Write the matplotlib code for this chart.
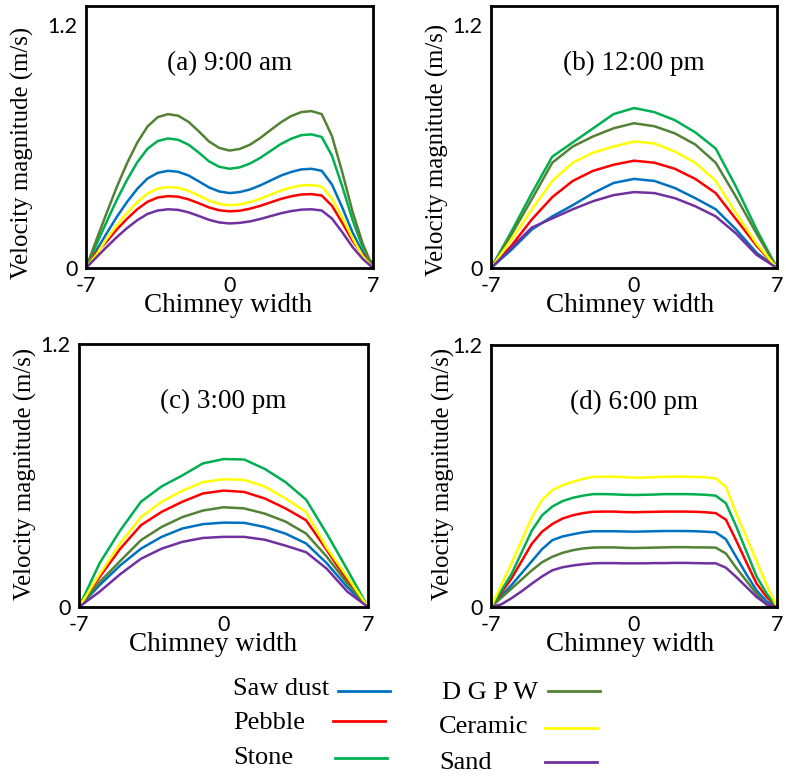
import matplotlib
matplotlib.use("Agg")
import matplotlib.pyplot as plt
from matplotlib.lines import Line2D

# chimney width positions: half steps for the smooth panels (a, d),
# whole steps for the more angular ones (b, c)
x_half = [-7, -6.5, -6, -5.5, -5, -4.5, -4, -3.5, -3, -2.5, -2, -1.5, -1, -0.5, 0,
          0.5, 1, 1.5, 2, 2.5, 3, 3.5, 4, 4.5, 5, 5.5, 6, 6.5, 7]
x_one = [-7, -6, -5, -4, -3, -2, -1, 0, 1, 2, 3, 4, 5, 6, 7]

names = ["Saw dust", "Pebble", "Stone", "D G P W", "Ceramic", "Sand"]
colors = ["#0070C0", "#FF0000", "#00B050", "#548235", "#FFFF00", "#7030A0"]

# (a) 9:00 am
a_saw = [0, .086, .17, .252, .326, .391, .442, .47, .48, .475, .457, .428, .398, .378, .37,
         .375, .388, .408, .432, .456, .474, .487, .49, .48, .412, .299, .176, .076, 0]
a_pebble = [.025, .075, .13, .19, .243, .29, .327, .348, .355, .352, .339, .32, .299, .285, .28,
            .283, .293, .307, .324, .341, .354, .363, .365, .358, .307, .223, .135, .065, .025]
a_stone = [0, .115, .227, .336, .435, .522, .589, .627, .64, .633, .609, .57, .527, .50, .49,
           .497, .516, .544, .578, .612, .638, .656, .66, .647, .554, .403, .238, .102, 0]
a_dgpw = [0, .137, .27, .40, .517, .619, .699, .745, .76, .752, .722, .675, .625, .593, .58,
          .588, .609, .642, .681, .719, .75, .77, .775, .76, .651, .473, .279, .12, 0]
a_ceramic = [0, .065, .142, .21, .272, .326, .368, .392, .40, .396, .381, .358, .333, .316, .31,
             .314, .325, .342, .362, .382, .397, .408, .41, .402, .344, .25, .148, .058, 0]
a_sand = [0, .052, .103, .152, .197, .236, .267, .284, .29, .287, .275, .257, .238, .225, .22,
          .223, .23, .242, .256, .27, .281, .288, .29, .284, .244, .177, .104, .045, 0]

# (b) 12:00 pm
b_saw = [0.00, 0.09, 0.19, 0.255, 0.31, 0.37, 0.42, 0.44, 0.43, 0.395, 0.345, 0.29, 0.19, 0.075, 0.00]
b_pebble = [0.00, 0.11, 0.24, 0.35, 0.43, 0.48, 0.51, 0.53, 0.52, 0.49, 0.44, 0.37, 0.24, 0.11, 0.00]
b_stone = [0.00, 0.18, 0.37, 0.55, 0.62, 0.69, 0.76, 0.79, 0.77, 0.73, 0.67, 0.59, 0.40, 0.19, 0.00]
b_dgpw = [0.00, 0.165, 0.34, 0.52, 0.60, 0.65, 0.69, 0.715, 0.70, 0.665, 0.61, 0.52, 0.35, 0.17, 0.00]
b_ceramic = [0.00, 0.14, 0.29, 0.43, 0.52, 0.57, 0.60, 0.625, 0.615, 0.575, 0.52, 0.43, 0.27, 0.12, 0.00]
b_sand = [0.00, 0.10, 0.20, 0.245, 0.29, 0.33, 0.36, 0.375, 0.37, 0.345, 0.305, 0.255, 0.17, 0.065, 0.00]

# (c) 3:00 pm
c_saw = [0.00, 0.10, 0.19, 0.266, 0.32, 0.358, 0.378, 0.385, 0.384, 0.365, 0.335, 0.29, 0.20, 0.09, 0.00]
c_pebble = [0.00, 0.137, 0.266, 0.373, 0.434, 0.48, 0.518, 0.531, 0.525, 0.495, 0.45, 0.396, 0.26, 0.12, 0.00]
c_stone = [0.00, 0.20, 0.35, 0.48, 0.55, 0.60, 0.655, 0.675, 0.673, 0.63, 0.57, 0.49, 0.335, 0.17, 0.00]
c_dgpw = [0.00, 0.114, 0.21, 0.305, 0.365, 0.41, 0.44, 0.455, 0.45, 0.426, 0.39, 0.335, 0.23, 0.107, 0.00]
c_ceramic = [0.00, 0.15, 0.29, 0.41, 0.48, 0.53, 0.57, 0.583, 0.58, 0.55, 0.495, 0.434, 0.27, 0.137, 0.00]
c_sand = [0.00, 0.07, 0.15, 0.22, 0.266, 0.297, 0.315, 0.32, 0.32, 0.307, 0.28, 0.25, 0.175, 0.07, 0.00]

# (d) 6:00 pm
d_saw = [0, .05, .10, .155, .21, .265, .306, .323, .333, .342, .347, .347, .347, .346, .345,
         .346, .347, .348, .348, .348, .347, .345, .342, .31, .23, .15, .076, .025, 0]
d_pebble = [0, .065, .13, .21, .29, .345, .38, .405, .42, .43, .436, .437, .437, .435, .434,
            .435, .436, .437, .437, .437, .436, .434, .43, .40, .305, .205, .107, .045, 0]
d_stone = [0, .075, .15, .25, .35, .42, .46, .485, .50, .51, .517, .517, .516, .514, .513,
           .514, .515, .517, .517, .517, .516, .514, .51, .475, .37, .255, .14, .06, 0]
d_dgpw = [0, .042, .084, .126, .168, .205, .23, .248, .26, .268, .272, .273, .273, .271, .27,
          .271, .272, .273, .274, .274, .273, .273, .272, .245, .18, .12, .06, .01, 0]
d_ceramic = [0, .10, .20, .305, .41, .49, .535, .558, .573, .587, .596, .597, .597, .595, .592,
             .593, .595, .597, .597, .597, .596, .594, .589, .55, .43, .32, .21, .10, 0]
d_sand = [0, .012, .04, .072, .107, .14, .168, .182, .19, .196, .20, .201, .201, .20, .20,
          .20, .201, .201, .202, .202, .201, .20, .20, .18, .138, .092, .046, .012, 0]

titles = ["(a) 9:00 am", "(b) 12:00 pm", "(c) 3:00 pm", "(d) 6:00 pm"]
xs = [x_half, x_one, x_one, x_half]
series = [
    [a_saw, a_pebble, a_stone, a_dgpw, a_ceramic, a_sand],
    [b_saw, b_pebble, b_stone, b_dgpw, b_ceramic, b_sand],
    [c_saw, c_pebble, c_stone, c_dgpw, c_ceramic, c_sand],
    [d_saw, d_pebble, d_stone, d_dgpw, d_ceramic, d_sand],
]

serif = "Liberation Serif"
W, H = 786, 776
fig = plt.figure(figsize=(W / 100, H / 100), dpi=100)

# axes boxes in pixels: left, top, right, bottom
boxes = [(86, 6, 373, 268), (491, 6, 777, 268),
         (79, 344, 368, 607), (491, 345, 777, 607)]
ytops = [1.294, 1.294, 1.2, 1.2]
ylab_x = [-0.181, -0.146, -0.145, -0.125]
ylab_y = [0.44, 0.45, 0.507, 0.507]
xlab_x = [0.495, 0.487, 0.464, 0.487]

for i in range(4):
    l, t, r, b = boxes[i]
    ax = fig.add_axes([l / W, 1 - b / H, (r - l) / W, (b - t) / H])
    for vals, c in zip(series[i], colors):
        ax.plot(xs[i], vals, color=c, lw=1.8, solid_joinstyle="round")
    ax.set_xlim(-7, 7)
    ax.set_ylim(0, ytops[i])
    ax.set_xticks([-7, 0, 7])
    ax.set_xticklabels(["-7", "0", "7"])
    ax.set_yticks([0, 1.2])
    ax.set_yticklabels(["0", "1.2"])
    ax.tick_params(length=0, labelsize=15.5, pad=6)
    for lab in ax.get_xticklabels() + ax.get_yticklabels():
        lab.set_fontfamily("Lato")
    for s in ax.spines.values():
        s.set_linewidth(2.0)
        s.set_color("black")
    ax.set_xlabel("Chimney width", fontsize=19.5, family=serif)
    ax.xaxis.set_label_coords(xlab_x[i], -0.095)
    ax.set_ylabel("Velocity magnitude (m/s)", fontsize=17.8, family=serif)
    ax.yaxis.set_label_coords(ylab_x[i], ylab_y[i])
    ax.text(0.5, 0.78, titles[i], transform=ax.transAxes, ha="center",
            va="center", fontsize=19.5, family=serif)

# legend drawn by hand, two columns
leg_text = [(233, 689), (233, 723), (233, 758), (442, 693), (439, 727), (439, 763)]
leg_line = [(338, 390, 691), (333, 385, 721), (335, 387, 758),
            (548, 600, 691), (545, 597, 728), (545, 597, 762)]
for k in range(6):
    tx, ty = leg_text[k]
    fig.text(tx / W, 1 - ty / H, names[k], fontsize=19, family=serif,
             ha="left", va="center")
    x0, x1, ly = leg_line[k]
    fig.add_artist(Line2D([x0 / W, x1 / W], [1 - ly / H, 1 - ly / H],
                          color=colors[k], lw=2.0, transform=fig.transFigure))

fig.savefig("out.png", dpi=100)
